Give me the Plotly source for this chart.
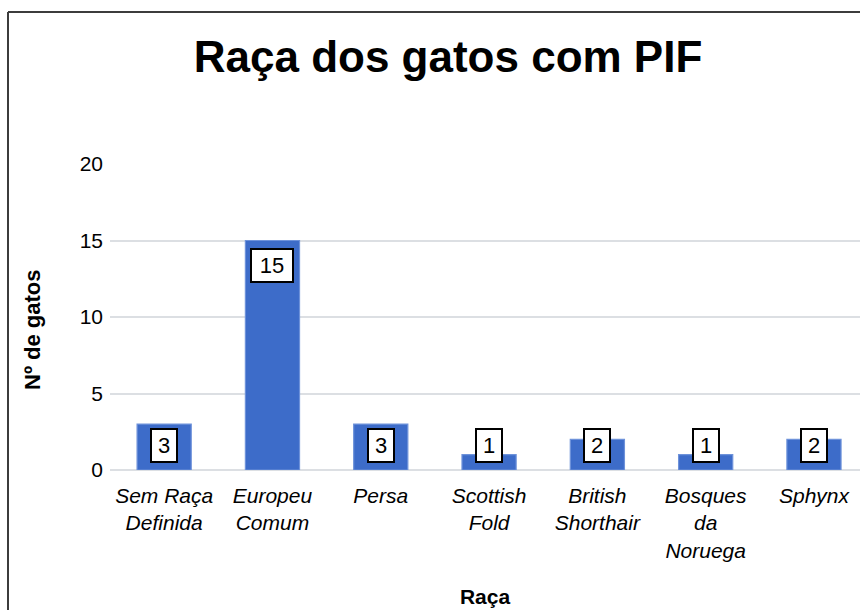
import plotly.graph_objects as go

# Breeds of cats diagnosed with FIP and number of cats per breed
racas = ["Sem Raça<br>Definida", "Europeu<br>Comum", "Persa", "Scottish<br>Fold",
         "British<br>Shorthair", "Bosques<br>da<br>Noruega", "Sphynx"]
n_gatos = [3, 15, 3, 1, 2, 1, 2]
y_ticks = [0, 5, 10, 15, 20]

FONT = "Liberation Sans, Arial, sans-serif"
PLOT_H = 306  # plot-area height in px (margin t=164, b=140 on a 610 px page)
Y_MAX = 20
BOX_H = 34    # approx. height of a value box in px
PAD = 7       # gap between box and bar top / baseline

fig = go.Figure()
fig.add_trace(go.Bar(
    x=racas,
    y=n_gatos,
    width=0.5,
    marker=dict(color="#3d6cc9", line=dict(color="#6e92da", width=1.2)),
    hoverinfo="x+y",
))

# Value labels in white boxes: inside the top of the bar, pushed up to sit on
# the baseline when the bar is too short to hold the box.
for raca, v in zip(racas, n_gatos):
    bar_px = v / Y_MAX * PLOT_H
    if bar_px - PAD - BOX_H >= PAD:
        y, anchor, shift = v, "top", -PAD
    else:
        y, anchor, shift = 0, "bottom", PAD
    label = str(v)
    fig.add_annotation(
        x=raca, y=y, xref="x", yref="y", text=label, showarrow=False,
        yanchor=anchor, yshift=shift,
        width=16 * len(label) + 2, align="center",
        font=dict(family=FONT, size=22, color="black"),
        bgcolor="white", bordercolor="black", borderwidth=2, borderpad=3,
    )

# Vertical axis title, placed a little below the plot-area centre
fig.add_annotation(
    xref="paper", yref="paper", x=-0.104, y=0.4575,
    text="<b>Nº de gatos</b>", textangle=-90, showarrow=False,
    xanchor="center", yanchor="middle",
    font=dict(family=FONT, size=22, color="black"),
)

# Frame lines (top and left edges of the chart box)
fig.add_shape(type="line", xref="paper", yref="paper",
              x0=-0.136, x1=1.0, y0=1.497, y1=1.497,
              line=dict(color="#3c3c3c", width=2))
fig.add_shape(type="line", xref="paper", yref="paper",
              x0=-0.136, x1=-0.136, y0=1.497, y1=-0.46,
              line=dict(color="#3c3c3c", width=2))

fig.update_layout(
    width=860, height=610,
    margin=dict(l=110, r=0, t=164, b=140),
    paper_bgcolor="white", plot_bgcolor="white",
    showlegend=False,
    title=dict(text="<b>Raça dos gatos com PIF</b>", x=0.4507, xref="paper",
               xanchor="center", y=0.907, yanchor="middle",
               font=dict(family=FONT, size=44, color="black")),
    font=dict(family=FONT, color="black"),
)

fig.update_xaxes(
    range=[-0.5, 6.425],
    tickfont=dict(family=FONT, size=21, color="black", style="italic"),
    showgrid=False, showline=False, ticks="", ticklabelstandoff=11,
    title=dict(text="<b>Raça</b>", font=dict(family=FONT, size=21, color="black"),
               standoff=28),
)
fig.update_yaxes(
    range=[0, Y_MAX],
    tickvals=y_ticks,
    tickfont=dict(family=FONT, size=21, color="black"),
    showgrid=True, gridcolor="#dcdfe3", gridwidth=2,
    zeroline=True, zerolinecolor="#dcdfe3", zerolinewidth=2,
    showline=False, ticks="", ticklabelstandoff=6,
)

fig.write_html("out.html")
